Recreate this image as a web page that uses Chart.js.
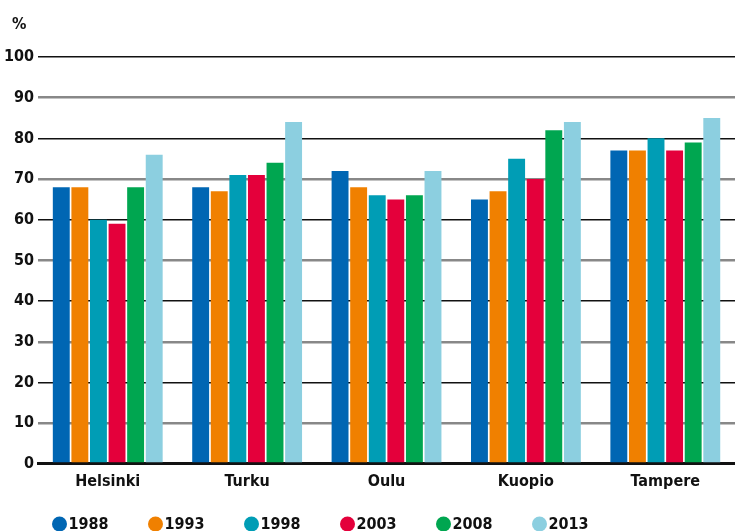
<!DOCTYPE html>
<html>
<head>
<meta charset="utf-8">
<script src="https://cdn.jsdelivr.net/npm/chart.js@4.4.1/dist/chart.umd.min.js"></script>
<style>
  body { margin: 0; background: #fff; }
  #wrap { width: 735px; height: 531px; }
</style>
</head>
<body>
<div id="wrap"><canvas id="chart" width="735" height="531"></canvas></div>
<script>
// cities and survey years
const cities = ['Helsinki', 'Turku', 'Oulu', 'Kuopio', 'Tampere'];
const years = ['1988', '1993', '1998', '2003', '2008', '2013'];
const unitLabel = '%';

// values per year, one per city (%)
const v1988 = [68, 68, 72, 65, 77];
const v1993 = [68, 67, 68, 67, 77];
const v1998 = [60, 71, 66, 75, 80];
const v2003 = [59, 71, 65, 70, 77];
const v2008 = [68, 74, 66, 82, 79];
const v2013 = [76, 84, 72, 84, 85];

const yearColors = ['#0066b3', '#f08000', '#009db5', '#e4003b', '#00a650', '#8ccfe0'];
const seriesValues = [v1988, v1993, v1998, v2003, v2008, v2013];

const FONT = "'DejaVu Sans Condensed', sans-serif";

const datasets = years.map((y, i) => ({
    label: y,
    data: seriesValues[i],
    backgroundColor: yearColors[i],
    borderWidth: 0,
    categoryPercentage: 0.8,
    barPercentage: 0.91
}));

// unit label top left + legend at the bottom (dot + year, tight spacing)
const extras = {
    id: 'extras',
    afterDraw(chart) {
        const ctx = chart.ctx;
        ctx.save();
        ctx.font = 'bold 16px ' + FONT;
        ctx.textBaseline = 'middle';
        ctx.textAlign = 'left';
        ctx.fillStyle = '#111';
        ctx.fillText(unitLabel, 12, 25);
        chart.data.datasets.forEach((ds, i) => {
            const cx = 59.5 + i * 96;
            const cy = 524;
            ctx.fillStyle = ds.backgroundColor;
            ctx.beginPath();
            ctx.arc(cx, cy, 7.5, 0, Math.PI * 2);
            ctx.fill();
            ctx.fillStyle = '#111';
            ctx.fillText(ds.label, cx + 9, cy + 1);
        });
        ctx.restore();
    }
};

new Chart(document.getElementById('chart'), {
    type: 'bar',
    data: { labels: cities, datasets: datasets },
    options: {
        responsive: false,
        animation: false,
        layout: { padding: { left: 0, right: 0, top: 57, bottom: 32 } },
        plugins: {
            legend: { display: false },
            tooltip: { enabled: false }
        },
        scales: {
            x: {
                grid: { display: false, drawTicks: false },
                border: { display: true, color: '#111', width: 3 },
                ticks: {
                    color: '#111',
                    padding: 8,
                    font: { family: FONT, size: 16, weight: 'bold' }
                }
            },
            y: {
                min: 0,
                max: 100,
                border: { display: false },
                grid: {
                    drawTicks: false,
                    color: ctx => (ctx.tick.value % 20 === 0 ? '#111' : '#888'),
                    lineWidth: ctx => (ctx.tick.value === 0 ? 3 : (ctx.tick.value % 20 === 0 ? 1.5 : 2.5))
                },
                ticks: {
                    stepSize: 10,
                    color: '#111',
                    padding: 4,
                    font: { family: FONT, size: 16, weight: 'bold' }
                }
            }
        }
    },
    plugins: [extras]
});
</script>
</body>
</html>
